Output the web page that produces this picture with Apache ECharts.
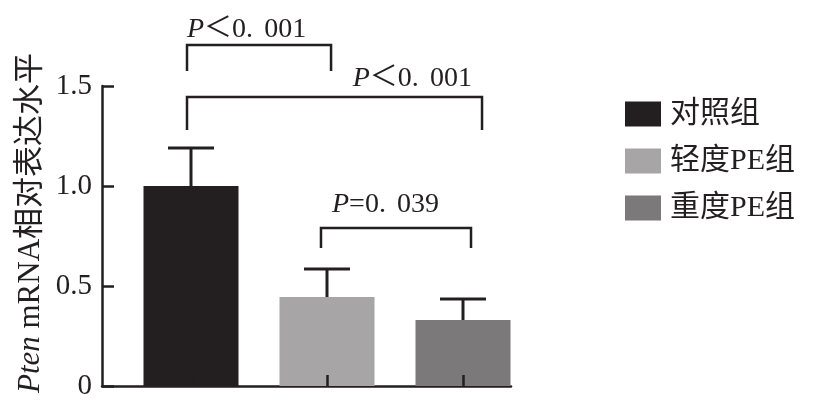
<!DOCTYPE html>
<html>
<head>
<meta charset="utf-8">
<script src="https://cdn.jsdelivr.net/npm/echarts@6/dist/echarts.min.js"></script>
<style>html,body{margin:0;padding:0;background:#fff}#c{width:814px;height:411px}</style>
</head>
<body>
<div id="c"></div>
<script>
// ---- data ----
const categories = ['对照组', '轻度PE组', '重度PE组'];
const means = [1.0, 0.445, 0.33];
const sds = [0.19, 0.14, 0.105];
const yTickValues = [0, 0.5, 1.0, 1.5];
const yTickLabels = ['0', '0.5', '1.0', '1.5'];
// brackets: [xStart, xEnd, yTop, yBottom] in category-index / value units
const brackets = [
  [-0.033, 1.026, 1.705, 1.575],
  [-0.033, 2.136, 1.445, 1.28],
  [0.952, 2.055, 0.79, 0.69]
];
const bracketLabels = ['{i|P}＜0.\u2009\u2009001', '{i|P}＜0.\u2009\u2009001', '{i|P}=0.\u2009\u2009039'];
const yTitle = '{i|Pten} mRNA相对表达水平';

// ---- styles ----
const INK = '#231f20';
const colors = ['#231f20', '#a7a5a6', '#7b797a'];
const FONT = "'Liberation Serif', 'Noto Sans CJK SC', serif";
const labelStyle = [
  {align: 'left', dx: 0, dy: -1},
  {align: 'right', dx: -10, dy: -4},
  {align: 'left', dx: 11, dy: -9}
];

const chart = echarts.init(document.getElementById('c'), null, {renderer: 'canvas'});

const barSeries = categories.map((name, i) => ({
  name: name,
  type: 'bar',
  xAxisIndex: 0, yAxisIndex: 0,
  barWidth: 95,
  barGap: '-100%',
  itemStyle: {color: colors[i]},
  data: categories.map((c, j) => j === i ? means[j] : '-'),
  z: 2
}));

const option = {
  animation: false,
  backgroundColor: '#fff',
  textStyle: {fontFamily: FONT, color: INK},
  grid: [
    {left: 123, top: 86, width: 408, height: 300},
    {left: 102, top: 86, width: 409, height: 300}
  ],
  xAxis: [
    {
      type: 'category', gridIndex: 0, data: categories, z: 5,
      axisLine: {show: false},
      axisTick: {show: true, inside: true, length: 11, alignWithLabel: true, lineStyle: {color: INK, width: 2.5}},
      axisLabel: {show: false}
    },
    {
      type: 'value', gridIndex: 1, min: -0.658, max: 2.349,
      axisLine: {show: true, onZero: false, lineStyle: {color: INK, width: 2.5}},
      axisTick: {show: false}, axisLabel: {show: false}, splitLine: {show: false}
    }
  ],
  yAxis: [
    {
      type: 'value', gridIndex: 0, min: 0, max: 1.5, interval: 0.5, offset: 21,
      axisLine: {show: true, lineStyle: {color: INK, width: 2.5}},
      axisTick: {show: true, inside: true, length: 12, lineStyle: {color: INK, width: 2.5}},
      axisLabel: {
        margin: 10, fontSize: 29, color: INK, fontFamily: FONT,
        formatter: v => { const k = yTickValues.findIndex(t => Math.abs(t - v) < 1e-9); return k >= 0 ? yTickLabels[k] : ''; }
      },
      splitLine: {show: false}
    },
    {type: 'value', gridIndex: 1, min: 0, max: 1.5, show: false}
  ],
  legend: {
    orient: 'vertical', left: 620, top: 94,
    itemWidth: 36, itemHeight: 25, itemGap: 17,
    icon: 'rect',
    data: categories,
    textStyle: {fontSize: 30, lineHeight: 30, color: INK, fontFamily: FONT, padding: [0, 0, 0, 4]}
  },
  graphic: [{
    type: 'text', x: 31, y: 223, rotation: Math.PI / 2,
    style: {
      text: yTitle, align: 'center', verticalAlign: 'middle',
      fontSize: 31, fontFamily: FONT, fill: INK,
      rich: {i: {fontStyle: 'italic', fontSize: 31, fontFamily: FONT, fill: INK}}
    }
  }],
  series: [
    ...barSeries,
    {
      type: 'custom', name: 'err', xAxisIndex: 0, yAxisIndex: 0, z: 3,
      data: means.map((m, i) => [i, m, sds[i]]),
      renderItem: (params, api) => {
        const x = api.value(0), m = api.value(1), s = api.value(2);
        const p0 = api.coord([x, m]);
        const p1 = api.coord([x, m + s]);
        const half = 23;
        const st = {stroke: INK, lineWidth: 3};
        return {type: 'group', children: [
          {type: 'line', shape: {x1: p0[0], y1: p0[1], x2: p1[0], y2: p1[1]}, style: st},
          {type: 'line', shape: {x1: p1[0] - half, y1: p1[1], x2: p1[0] + half, y2: p1[1]}, style: st}
        ]};
      }
    },
    {
      type: 'custom', name: 'sig', xAxisIndex: 1, yAxisIndex: 1, z: 3, clip: false,
      data: brackets.map((b, i) => [b[0], b[1], b[2], b[3], i]),
      renderItem: (params, api) => {
        const i = api.value(4);
        const a = api.coord([api.value(0), api.value(3)]);
        const b = api.coord([api.value(0), api.value(2)]);
        const c = api.coord([api.value(1), api.value(2)]);
        const d = api.coord([api.value(1), api.value(3)]);
        const ls = labelStyle[i];
        const tx = (ls.align === 'left' ? b[0] : c[0]) + ls.dx;
        return {type: 'group', children: [
          {type: 'polyline', shape: {points: [a, b, c, d]}, style: {stroke: INK, lineWidth: 2.5, fill: null}},
          {type: 'text', x: tx, y: b[1] + ls.dy, style: {
            text: bracketLabels[i], align: ls.align, verticalAlign: 'bottom',
            fontSize: 28, fontFamily: FONT, fill: INK,
            rich: {i: {fontStyle: 'italic', fontSize: 28, fontFamily: FONT, fill: INK}}
          }}
        ]};
      }
    }
  ]
};
chart.setOption(option);
</script>
</body>
</html>
